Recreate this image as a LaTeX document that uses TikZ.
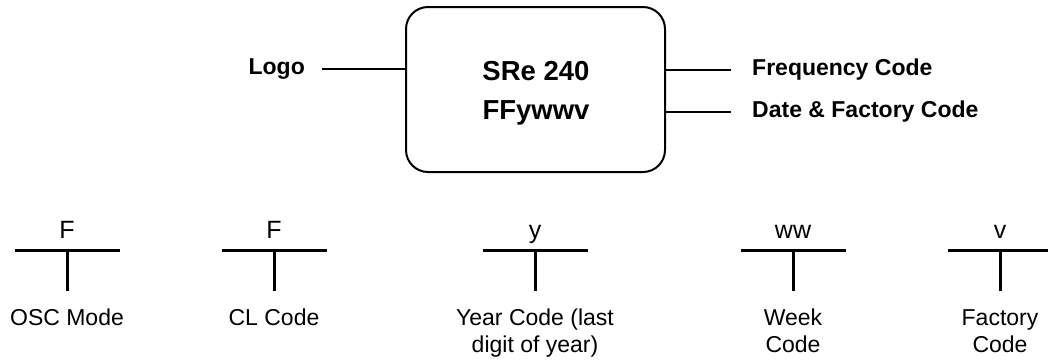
\documentclass[tikz,border=0pt]{standalone}
\usepackage{fontspec}
\setmainfont{Liberation Sans}

\begin{document}
\begin{tikzpicture}[x=1pt,y=-1pt,
  tag/.style={font=\bfseries\fontsize{23}{27}\selectfont,inner sep=0pt},
  lead/.style={line width=2pt},
  tee/.style={line width=3pt},
  code/.style={font=\fontsize{25}{29}\selectfont,anchor=base,inner sep=0pt},
  desc/.style={font=\fontsize{23}{27}\selectfont,align=center,anchor=north,inner sep=0pt}]
  \useasboundingbox (0,0) rectangle (1048,360);
  % marking on the part
  \node[draw,line width=2pt,rounded corners=22pt,minimum width=259pt,minimum height=165pt] (chip) at (535.5,89.5) {};
  \node[font=\bfseries\fontsize{27.5}{39}\selectfont,align=center,inner sep=0pt] (mark) at (536,93.5) {SRe 240\\FFywwv};
  \node[tag,anchor=east] (logo) at (305,69) {Logo};
  \node[tag,anchor=west] (freq) at (752,70) {Frequency Code};
  \node[tag,anchor=west] (date) at (752,112) {Date \& Factory Code};
  \draw[lead,shorten <=17pt] (logo) -- (chip.west |- logo);
  \draw[lead,shorten >=21pt] (chip.east |- freq) -- (freq);
  \draw[lead,shorten >=21pt] (chip.east |- date) -- (date);
  % fields of the date & factory code
  \foreach \x/\sym/\what/\nm in {67/F/OSC Mode/osc, 274/F/CL Code/cl, 535/y/{Year Code (last\\digit of year)}/year, 793/ww/{Week\\Code}/week, 1000/v/{Factory\\Code}/fac}{
    \coordinate (\nm) at (\x,250);
    \node[code] (\nm-sym) at (\x,238) {\sym};
    \node[desc] (\nm-what) at (\x,309) {\what};
    \draw[tee] ([xshift=-52.5pt]\nm) -- ([xshift=52.5pt]\nm);
    \draw[tee,shorten >=18pt] (\nm) -- (\nm-what);
  }
\end{tikzpicture}
\end{document}
